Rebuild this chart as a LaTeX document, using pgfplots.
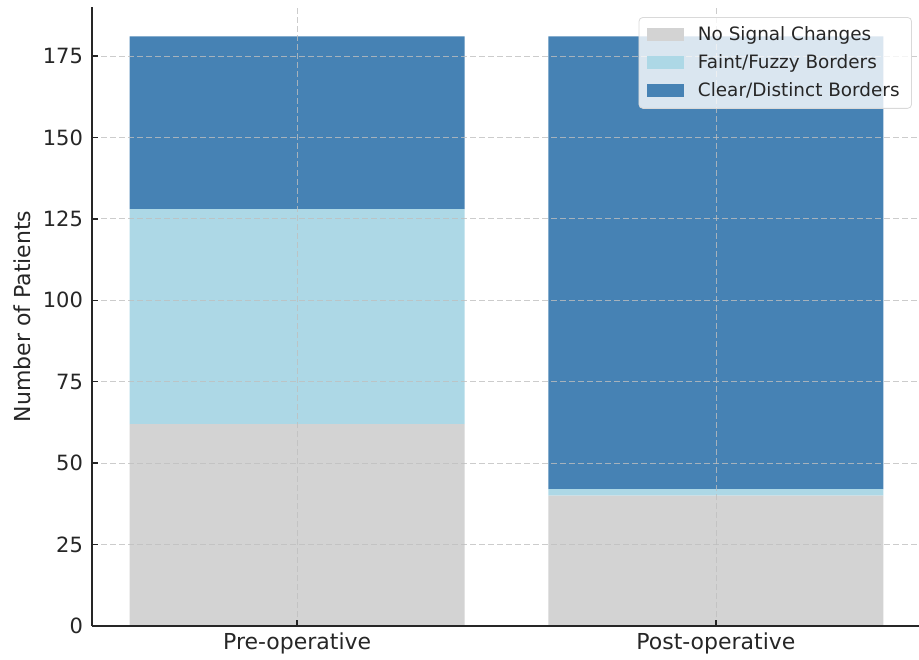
\documentclass[border=0pt]{standalone}
\usepackage{fontspec}
\setmainfont{DejaVu Sans}
\usepackage{pgfplots}
\pgfplotsset{compat=1.18}
\definecolor{cgrey}{HTML}{D3D3D3}
\definecolor{cblue}{HTML}{ADD8E6}
\definecolor{csteel}{HTML}{4682B4}
\definecolor{ctext}{HTML}{262626}
\begin{document}
\begin{tikzpicture}
\begin{axis}[
  at={(0,0)}, anchor=south west,
  scale only axis, width=413.5pt, height=309.5pt,
  ybar stacked, bar width=0.8,
  xmin=-0.49, xmax=1.485, ymin=0, ymax=190.05,
  xtick={0,1}, xticklabels={Pre-operative,Post-operative},
  ytick={0,25,...,175},
  axis x line*=bottom, axis y line*=left,
  axis line style={line width=0.7pt, black!85},
  tick style={line width=0.7pt, black!85},
  tick align=inside, major tick length=3pt,
  grid=major,
  grid style={dash pattern=on 3pt off 1.5pt, line width=0.4pt, gray!50, opacity=0.8},
  axis on top,
  /pgf/number format/assume math mode=true,
  tick label style={font=\fontsize{10.5}{12}\selectfont, text=ctext},
  yticklabel style={xshift=-1pt},
  xticklabel style={font=\fontsize{11}{13}\selectfont, yshift=0pt},
  ylabel={Number of Patients},
  ylabel style={at={(axis description cs:-0.0846,0.5)}, anchor=center, font=\fontsize{11}{13}\selectfont, text=ctext},
  legend style={at={(rel axis cs:0.9915,0.9838)}, anchor=north east,
    draw=black!15, fill=white, fill opacity=0.8, text opacity=1,
    rounded corners=2pt, font=\fontsize{9.2}{11}\selectfont, text=ctext,
    inner xsep=4pt, inner ysep=2.5pt, row sep=1.5pt},
  legend cell align=left,
  legend image code/.code={\fill[#1, sharp corners, fill opacity=1] (0pt,-3.25pt) rectangle (18.5pt,3.25pt); \path (23.5pt,0pt);},
]
\addplot[fill=cgrey, draw=none] coordinates {(0,62) (1,40)};
\addplot[fill=cblue, draw=none] coordinates {(0,66) (1,2)};
\addplot[fill=csteel, draw=none] coordinates {(0,53) (1,139)};
\legend{No Signal Changes, Faint/Fuzzy Borders, Clear/Distinct Borders}
\end{axis}
\pgfresetboundingbox
\path[use as bounding box] (-46pt,-16.5pt) rectangle (413.5pt,313pt);
\end{tikzpicture}
\end{document}
